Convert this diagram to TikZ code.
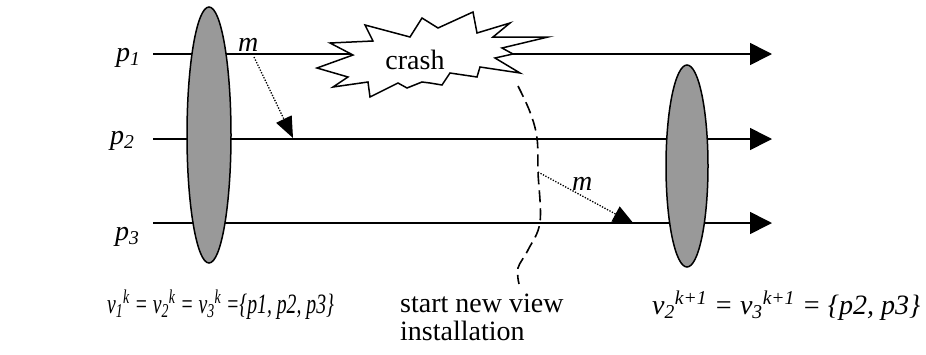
\documentclass[tikz,border=0pt]{standalone}
\usepackage{fontspec}
\setmainfont{Liberation Serif}
\usetikzlibrary{arrows.meta}
\tikzset{
  proc/.style={line width=1.6pt,-{Triangle[length=22pt,width=22pt]}},
  viewell/.style={draw=black,line width=1.5pt,fill=black!40},
  msg/.style={line width=1.3pt,dash pattern=on 1.3pt off 1.5pt,-{Triangle[length=21pt,width=17pt]}},
  viewchg/.style={line width=1.6pt,dash pattern=on 12pt off 6pt},
  crashshape/.style={draw=black,line width=1.5pt,fill=white,line join=miter},
  lbl/.style={inner sep=0pt,anchor=base west,font=\fontsize{28}{28}\selectfont\itshape},
  txt/.style={inner sep=0pt,anchor=base west,font=\fontsize{28}{27.5}\selectfont,align=left},
}
\begin{document}
\begin{tikzpicture}[x=1pt,y=-1pt]
\useasboundingbox (0,0) rectangle (926,354);
% process lines
\coordinate (s1) at (153,54);  \coordinate (e1) at (772,54);
\coordinate (s2) at (153,139); \coordinate (e2) at (772,139);
\coordinate (s3) at (153,223); \coordinate (e3) at (772,223);
\draw[proc] (s1) -- (e1);
\draw[proc] (s2) -- (e2);
\draw[proc] (s3) -- (e3);
% labels
\node[lbl] (lp1) at (116,61) {p\textsubscript{1}};
\node[lbl] (lp2) at (110,144) {p\textsubscript{2}};
\node[lbl] (lp3) at (115,240) {p\textsubscript{3}};
% views
\draw[viewell] (209,135) ellipse [x radius=22, y radius=128];
\draw[viewell] (687,166) ellipse [x radius=21, y radius=101];
% crash
\draw[crashshape] (365,25) -- (410,37) -- (422,18) -- (438,28) -- (473,12) -- (477,33)
  -- (510,23) -- (493,37) -- (548,37) -- (502,48) -- (513,54) -- (495,58) -- (520,73)
  -- (480,67) -- (477,77) -- (450,73) -- (442,85) -- (430,83) -- (422,82) -- (407,88)
  -- (398,83) -- (370,97) -- (368,82) -- (333,87) -- (348,77) -- (317,68) -- (353,55)
  -- (330,43) -- (373,41) -- cycle;
\node[txt,anchor=base] (crash) at (415,69) {crash};
% view change curve
\coordinate (c0) at (518,86);
\coordinate (cm) at (538,172);
\coordinate (c1) at (519,284);
\draw[viewchg] plot[smooth,tension=0.6] coordinates {(518,86) (530,112) (537,138) (538,172) (540,222) (528,250) (518,268) (519,284)};
% messages
\coordinate (m1s) at (254,57);
\coordinate (m1e) at (293,138);
\draw[msg] (m1s) -- (m1e);
\node[lbl] (m1) at (238,51) {m};
\draw[msg] (cm) -- (634,224);
\node[lbl] (m2) at (572,190) {m};
% bottom texts
\node[lbl] (vl) at (107,313) {\scalebox{0.705}[1]{v\textsubscript{1}\textsuperscript{k} = v\textsubscript{2}\textsuperscript{k} = v\textsubscript{3}\textsuperscript{k} =\{p1, p2, p3\}}};
\node[txt] (sv) at (400,340) {start new view\\installation};
\node[lbl] (vr) at (652,314) {v\textsubscript{2}\textsuperscript{k+1} = v\textsubscript{3}\textsuperscript{k+1} = \{p2, p3\}};
\end{tikzpicture}
\end{document}
